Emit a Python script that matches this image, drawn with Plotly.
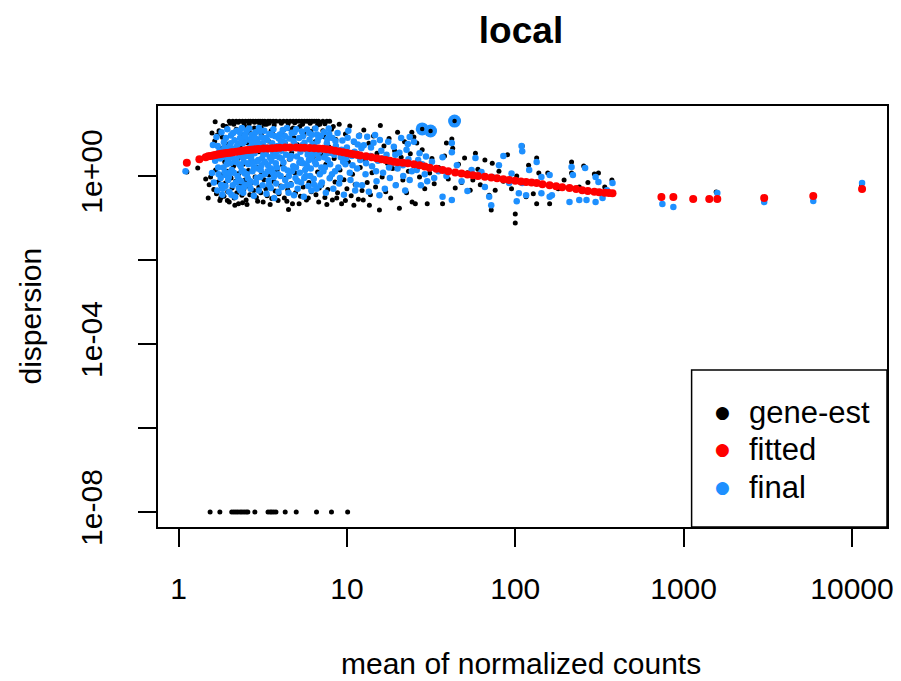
import plotly.graph_objects as go

# ---- data (mean of normalized counts, dispersion) ----
gene_est_points = [
    (1.12,1.25),(1.3,1.55),(1.5,0.30),(1.55,0.95),(1.65,19.5),(1.58,10.5),(1.45,0.85),(1.52,0.62),
    (1.62,0.48),(1.64,6.8),(1.66,1.4),(1.68,0.38),(1.7,9.5),(1.7,2.9),(1.72,0.72),(1.74,12),(1.76,0.26),
    (1.78,4.6),(1.8,1.05),(1.8,0.56),(1.82,8.4),(1.84,16),(1.86,0.33),(1.88,2.2),(1.9,0.68),(1.92,15),
    (1.94,1.3),(1.96,0.42),(1.98,5.8),(2.0,20),(2.0,0.24),(2.02,3.4),(2.05,0.9),(2.07,10),(2.08,0.52),
    (2.1,20),(2.12,1.7),(2.14,0.3),(2.16,7.2),(2.18,0.75),(2.2,20),(2.2,13),(2.22,0.4),(2.25,2.6),
    (2.27,0.22),(2.28,1.15),(2.3,20),(2.32,5.2),(2.34,0.6),(2.36,9.5),(2.38,0.35),(2.4,20),(2.4,0.23),
    (2.42,1.9),(2.44,0.48),(2.46,16),(2.48,0.8),(2.5,20),(2.5,3.2),
    (2.52,0.27),(2.55,6.2),(2.57,0.58),(2.6,20),(2.6,1.35),(2.62,11),(2.65,0.36),(2.67,20),(2.7,2.4),
    (2.72,0.7),(2.75,4.4),(2.77,20),(2.8,0.45),(2.82,14),(2.85,0.95),(2.87,20),(2.9,0.31),(2.92,7.6),
    (2.95,1.6),(2.97,20),(3.0,0.55),(3.0,3.8),(3.05,20),(3.08,0.4),(3.1,9.8),(3.12,1.2),(3.15,20),
    (3.18,0.24),(3.2,5.4),(3.22,0.82),(3.25,20),(3.28,2.1),(3.3,0.5),(3.33,17),(3.36,0.34),(3.4,20),
    (3.42,6.8),(3.45,1.05),(3.48,0.62),(3.5,20),(3.55,12),(3.58,0.29),(3.6,2.9),(3.65,20),(3.68,0.74),
    (3.72,8.8),(3.75,0.44),(3.8,20),(3.85,1.4),(3.9,4.9),(3.95,0.38),
    (4.0,20),(4.05,0.58),(4.1,10.5),(4.15,1.8),(4.2,20),(4.25,0.3),(4.3,6.1),(4.35,0.9),(4.4,20),
    (4.45,0.47),(4.5,13.5),(4.5,0.16),(4.55,2.5),(4.6,20),(4.65,0.66),(4.7,3.6),(4.75,0.22),(4.8,20),
    (4.85,8.2),(4.9,1.2),(4.95,0.4),(5.0,20),(5.05,5.6),(5.1,0.78),(5.2,20),(5.25,15),(5.3,0.33),
    (5.35,2.0),(5.4,20),(5.5,0.55),(5.55,9.2),(5.6,20),(5.7,1.5),(5.75,0.27),(5.8,20),(5.9,4.1),
    (5.95,0.7),(6.0,20),(6.1,11.5),(6.15,0.42),(6.2,20),(6.3,2.8),(6.35,0.88),(6.4,20),(6.5,6.6),
    (6.55,0.36),(6.6,20),(6.7,1.25),(6.8,20),(6.85,0.52),(6.9,17),(7.0,3.3),
    (7.1,0.6),(7.2,20),(7.3,8.6),(7.4,0.31),(7.5,1.9),(7.6,20),(7.7,0.48),(7.8,5.0),(7.9,20),(8.0,0.95),
    (8.1,13),(8.2,0.27),(8.4,2.6),(8.5,0.72),(8.6,7.4),(8.8,0.4),(9.0,17),(9.1,1.4),(9.3,0.22),(9.4,4.2),
    (9.6,0.82),(9.8,10),(10.0,0.5),(10.2,2.2),(10.4,15.5),(10.6,0.34),(10.8,1.1),(11.0,6.4),(11.2,0.63),
    (11.5,3.0),(11.7,0.28),(11.9,9.5),(12.0,1.6),
    (2.03,18),(2.13,17),(2.26,19),(2.44,18.5),(2.63,17.5),(2.83,19),(3.03,18),(3.23,17),(3.45,18),
    (3.7,16.5),(4.08,18),(4.48,17.5),(4.9,18.5),(5.45,17),(6.05,18),(6.7,16.5),(7.4,17.5),(8.3,15),
    (1.78,0.3),(1.95,0.26),(2.16,0.2),(2.55,0.21),(2.95,0.25),(3.5,0.21),(3.9,0.26),(4.4,0.25),
    (5.2,0.22),(5.9,0.3),(6.8,0.24),(7.6,0.21),(8.7,0.3),(9.8,0.26),(11,0.2),(12.5,0.27),(13.6,0.2),
    (2.3,12.5),(2.7,10),(3.1,14),(3.6,11),(4.2,12.5),(4.8,14),(5.6,11.5),(6.4,13.5),(7.2,12),
    (12.3,0.45),(12.6,12.5),(12.9,2.4),(13.2,0.7),(13.5,6.0),(13.8,0.36),(14.1,1.2),(14.4,9.0),
    (14.8,0.55),(15.1,3.5),(15.6,0.155),(15.8,16),(16.2,0.95),(16.6,5.2),(17.0,0.42),(17.4,2.0),
    (17.8,7.8),(18.2,0.3),(18.7,1.5),(19.2,4.0),(19.6,0.62),(20.0,11),(20.5,0.17),(21.0,2.8),(21.5,0.8),
    (22.0,6.5),(22.6,0.4),(23.2,1.3),(23.8,3.4),(24.3,11),(24.4,0.24),(25.0,8.5),
    (25.5,0.22),(26,6.1),(27,0.95),(28,4.2),(28,13.2),(29,0.5),(30,0.22),(31,1.18),(31.4,11.8),(32,2.6),
    (33,0.65),(35,1.6),(37,0.22),(38,3.0),(39,6.1),(40,0.85),(42,7.6),(42.5,4.6),(43.6,20.3),(44,0.52),
    (46,1.9),(48,0.7),(50,2.7),(52,1.2),(54,0.46),(56,0.8),(58,3.5),(60,1.45),
    (62,0.62),(66,2.4),(70,0.35),(72,0.155),(73,2.0),(76,0.46),(80,1.3),(85,0.75),(90,3.2),(95,0.5),
    (100,0.125),(100,0.076),(102,1.0),(110,5.2),(116,0.32),(120,1.8),(128,0.38),(134,2.7),(134,0.22),
    (138,1.18),(156,1.18),(160,0.22),(180,0.5),(195,0.8),(216,2.15),(216,1.18),(240,0.55),(255,1.73),
    (270,0.7),(295,1.12),(312,1.18),(340,0.55),(375,0.8),
    (738,0.334),(1560,0.416),(11400,0.61),
    (1.54,1e-8),(1.76,1e-8),(2.07,1e-8),(2.13,1e-8),(2.19,1e-8),(2.25,1e-8),(2.32,1e-8),(2.38,1e-8),
    (2.45,1e-8),(2.52,1e-8),(2.58,1e-8),(2.84,1e-8),(3.4,1e-8),(3.5,1e-8),(3.58,1e-8),(3.68,1e-8),
    (3.79,1e-8),(4.3,1e-8),(5.0,1e-8),(6.6,1e-8),(8.1,1e-8),(10.1,1e-8),
]

final_points = [
    (1.1,1.3),(1.6,5.5),(1.58,1.18),(1.9,1.05),
    (1.62,0.7),(1.65,2.3),(1.68,8.5),(1.7,0.45),(1.72,1.6),(1.75,4.0),(1.78,0.9),(1.8,11),(1.82,0.36),
    (1.84,2.9),(1.86,6.4),(1.88,1.25),(1.9,0.58),(1.92,3.6),(1.95,13),(1.97,0.8),(2.0,5.0),(2.0,0.42),
    (2.03,2.0),(2.05,9.2),(2.07,1.4),(2.1,0.6),(2.12,4.4),(2.15,7.0),(2.17,0.32),(2.2,2.5),(2.22,12),
    (2.24,1.0),(2.26,5.8),(2.28,0.52),(2.3,3.2),(2.32,8.0),(2.34,1.7),(2.36,0.75),(2.38,14),(2.4,4.0),
    (2.42,0.4),(2.44,2.2),(2.46,6.6),(2.48,1.15),(2.5,10),(2.5,0.62),
    (2.53,3.0),(2.56,7.5),(2.58,0.88),(2.6,1.9),(2.63,13.5),(2.65,4.8),(2.68,0.5),(2.7,2.7),(2.72,9.5),
    (2.75,1.3),(2.78,5.6),(2.8,0.34),(2.83,3.5),(2.86,11),(2.88,0.7),(2.9,2.2),(2.93,6.8),(2.96,1.5),
    (3.0,14),(3.0,0.45),(3.03,4.2),(3.06,0.95),(3.1,8.4),(3.13,2.6),(3.16,0.6),(3.2,5.0),(3.23,12),
    (3.26,1.1),(3.3,3.4),(3.33,0.38),(3.36,7.2),(3.4,1.8),(3.43,0.78),(3.46,10),(3.5,4.4),(3.53,0.52),
    (3.56,2.3),(3.6,6.0),(3.63,1.2),(3.66,13),(3.7,0.3),(3.73,3.0),(3.76,8.8),(3.8,0.66),(3.84,1.6),
    (3.88,5.2),(3.92,0.42),(3.96,2.8),
    (4.0,9.8),(4.04,1.0),(4.08,4.0),(4.12,0.55),(4.16,12.5),(4.2,2.1),(4.25,6.4),(4.3,0.8),(4.35,3.2),
    (4.4,14),(4.45,1.35),(4.5,0.4),(4.55,7.8),(4.6,2.6),(4.65,0.62),(4.7,10.5),(4.75,4.6),(4.8,1.7),
    (4.85,0.35),(4.9,5.8),(4.95,0.9),(5.0,13),(5.05,2.9),(5.1,0.5),(5.2,8.0),(5.25,1.2),(5.3,3.8),
    (5.35,0.7),(5.4,11.5),(5.5,2.0),(5.55,0.32),(5.6,6.2),(5.7,1.0),(5.75,4.2),(5.8,12.8),(5.9,0.58),
    (5.95,2.4),(6.0,7.4),(6.1,1.5),(6.15,0.45),(6.2,9.6),(6.3,3.4),(6.35,0.85),(6.4,5.4),(6.5,13.5),
    (6.55,1.9),(6.6,0.5),(6.7,6.8),(6.8,2.7),(6.9,1.1),(7.0,9.0),
    (7.1,0.7),(7.2,4.2),(7.3,11),(7.4,1.6),(7.5,0.4),(7.6,6.0),(7.7,2.4),(7.8,13.5),(7.9,0.88),(8.0,3.6),
    (8.2,8.0),(8.3,0.5),(8.5,1.3),(8.6,5.2),(8.8,10.5),(9.0,0.66),(9.2,2.8),(9.4,7.0),(9.6,0.36),
    (9.8,1.9),(10.0,4.8),(10.2,12),(10.5,0.8),(10.7,3.0),(11.0,6.6),(11.2,0.45),(11.5,1.5),(11.8,9.0),
    (12.0,2.4),
    (1.73,1.1),(1.77,2.6),(1.83,0.5),(1.87,4.8),(1.93,1.9),(1.99,0.95),(2.04,6.0),(2.09,2.8),(2.13,1.2),
    (2.19,0.7),(2.23,3.8),(2.29,1.9),(2.33,0.45),(2.39,2.8),(2.43,1.3),(2.47,9.0),(2.55,1.1),(2.62,3.3),
    (2.67,0.75),(2.74,6.2),(2.81,1.6),(2.89,4.2),(2.98,2.4),(3.08,1.4),(3.15,6.0),(3.25,2.2),(3.35,4.8),
    (3.45,0.62),(3.55,1.5),(3.65,3.6),(3.78,2.0),(3.9,1.1),(4.06,6.8),(4.22,1.5),(4.38,5.0),(4.52,1.0),
    (4.68,3.0),(4.82,6.8),(4.98,1.6),(5.15,4.8),(5.32,2.4),(5.48,8.8),(5.65,1.4),(5.85,3.2),(6.05,1.0),
    (6.25,5.8),(6.45,2.2),(6.65,9.8),(6.85,3.8),(7.05,1.6),(7.35,2.8),(7.65,7.6),(7.95,1.9),(8.4,3.2),
    (8.9,1.6),(9.3,4.2),(9.9,2.6),(10.4,1.2),(11.1,3.8),(11.6,5.6),
    (1.71,5.2),(1.79,0.62),(1.85,1.6),(1.91,8.0),(1.96,2.4),(2.01,1.2),(2.06,0.36),(2.11,10.5),
    (2.16,2.2),(2.21,5.0),(2.27,0.85),(2.31,11),(2.37,1.3),(2.41,6.0),(2.45,0.55),(2.49,3.6),(2.54,12),
    (2.59,2.0),(2.64,0.62),(2.69,7.0),(2.76,2.0),(2.84,8.2),(2.91,0.9),(2.99,5.5),(3.04,11.5),(3.11,1.8),
    (3.19,3.2),(3.28,8.0),(3.38,1.3),(3.48,2.8),(3.58,9.5),(3.68,0.95),(3.82,3.8),(3.94,7.8),(4.1,2.6),
    (4.28,9.0),(4.42,0.6),(4.58,4.8),(4.72,1.3),(4.88,11),(5.08,0.75),(5.22,2.1),(5.42,5.4),(5.58,0.9),
    (5.78,1.8),(5.98,10.5),(6.18,2.8),(6.38,0.62),(6.58,3.6),(6.78,8.2),(6.95,0.6),(7.25,1.3),(7.55,3.4),
    (7.85,10),(8.15,1.1),(8.55,6.8),(9.1,0.9),(9.5,2.2),(10.1,8.2),(10.8,1.8),(11.4,0.62),(12.2,4.6),
    (13.0,2.0),(13.9,4.8),(14.9,1.3),(16.2,2.6),(17.8,1.6),(19.4,3.2),(21.5,1.8),(23.0,5.8),
    (12.3,0.6),(12.6,5.4),(12.9,1.1),(13.2,8.6),(13.5,0.42),(13.8,3.0),(14.1,1.7),(14.4,6.2),(14.7,9.5),
    (15.0,0.75),(15.3,2.3),(15.6,0.35),(15.7,7.2),(16.0,4.0),(16.4,1.2),(16.8,0.5),(17.2,3.2),(17.6,6.5),
    (18.0,0.9),(18.5,2.0),(19.0,5.0),(19.5,0.6),(20.0,1.5),(20.5,3.6),(21.0,8.0),(21.6,1.0),(22.2,0.45),
    (22.6,4.2),(23.2,2.5),(23.6,8.5),(23.6,0.8),(24.3,1.3),
    (25,6.5),(26,1.4),(26.5,2.4),(27,3.5),(27.5,0.6),(28,1.9),(29,1.1),(29.5,2.9),(30,0.75),(31,1.6),
    (32,2.2),(33,0.9),(35,1.3),(37,2.8),(37,0.32),(39,1.0),(42,6.1),(42,3.7),(42,0.27),(45,1.8),
    (48,0.75),(52,0.44),(55,1.4),(58,2.7),(63,1.25),
    (66,0.55),(70,0.32),(72,0.2),(73,0.95),(80,1.8),(85,3.0),(92,0.68),(95,1.15),(102,0.25),(105,0.39),
    (109,5.2),(110,3.9),(110,0.68),(116,0.35),(121,1.39),(134,2.15),(143,0.95),(143,0.39),(160,1.05),
    (160,0.32),(165,0.35),(210,0.24),(216,1.64),(220,1.05),(240,0.27),(260,1.55),(265,0.27),(300,0.95),
    (300,0.24),(312,0.72),(330,0.3),(350,0.46),(378,0.68),
    (748,0.215),(869,0.183),(1585,0.394),(3010,0.24),(5890,0.254),(11480,0.68),
    (28,13.2),(31.4,11.8),(43.6,20.3),
]

fitted_points = [
    (1.12,2.07),(1.33,2.5),(1.45,2.8),(1.5,2.95),(1.55,3.0),(1.6,3.1),(1.65,3.15),(1.7,3.25),(1.75,3.3),
    (1.8,3.4),(1.85,3.45),(1.9,3.5),(1.95,3.55),(2.0,3.6),(2.05,3.65),(2.1,3.7),(2.2,3.8),(2.3,3.9),
    (2.4,4.0),(2.5,4.1),(2.6,4.15),(2.7,4.2),(2.8,4.3),(2.9,4.35),(3.0,4.4),(3.2,4.5),(3.4,4.55),
    (3.6,4.6),(3.8,4.65),(4.0,4.7),(4.3,4.75),(4.6,4.75),(5.0,4.75),(5.3,4.7),(5.6,4.7),(6.0,4.65),
    (6.4,4.6),(6.8,4.5),(7.2,4.45),(7.6,4.35),(8.0,4.2),(8.5,4.0),(9.0,3.85),(9.5,3.7),(10,3.55),
    (10.5,3.4),(11,3.3),(11.5,3.2),(12,3.1),(13,2.95),(14,2.8),(15,2.65),(16,2.5),(17,2.4),(18,2.3),
    (19,2.2),(20,2.12),(21.5,2.06),(23,2.0),(25,1.9),(27,1.8),(29,1.68),(31,1.58),(34,1.48),(37,1.4),
    (40,1.3),(44,1.22),(48,1.14),(52,1.08),(56,1.04),(60,1.0),(66,0.96),(72,0.92),(78,0.88),(85,0.84),
    (92,0.8),(100,0.77),(108,0.74),(116,0.72),(125,0.7),(134,0.68),(145,0.64),(160,0.6),(175,0.57),
    (190,0.54),(210,0.52),(230,0.49),(250,0.46),(270,0.44),(295,0.42),(315,0.41),(340,0.4),(360,0.395),
    (378,0.39),
    (738,0.316),(869,0.316),(1140,0.283),(1420,0.283),(1585,0.283),(3010,0.30),(5890,0.334),(11480,0.49),
]

outlier_points = [(28,13.2),(31.4,11.8),(43.6,20.3)]

x_tickvals = [1, 10, 100, 1000, 10000]
x_ticktext = ["1", "10", "100", "1000", "10000"]
y_tickvals = [1, 1e-2, 1e-4, 1e-6, 1e-8]
y_ticktext = ["1e+00", "", "1e-04", "", "1e-08"]

legend_names = ["gene-est", "fitted", "final"]
legend_colors = ["black", "red", "dodgerblue"]

FONT = "Liberation Sans, Arial, sans-serif"

# plot-area geometry in pixels
L, R, T, B = 158, 893, 106, 527
W, H = R - L, B - T


def xs(pts):
    return [p[0] for p in pts]


def ys(pts):
    return [p[1] for p in pts]


def px(x):
    return (x - L) / W


def py(y):
    return (B - y) / H


fig = go.Figure()
fig.add_trace(go.Scatter(x=xs(outlier_points), y=ys(outlier_points), mode="markers",
                         marker=dict(color="dodgerblue", size=13, line=dict(width=0)),
                         showlegend=False, hoverinfo="skip"))
fig.add_trace(go.Scatter(x=xs(gene_est_points), y=ys(gene_est_points), mode="markers",
                         name="gene-est", marker=dict(color="black", size=5, line=dict(width=0)),
                         showlegend=False))
fig.add_trace(go.Scatter(x=xs(final_points), y=ys(final_points), mode="markers",
                         name="final", marker=dict(color="dodgerblue", size=6.5, line=dict(width=0)),
                         showlegend=False))
fig.add_trace(go.Scatter(x=xs(fitted_points), y=ys(fitted_points), mode="markers",
                         name="fitted", marker=dict(color="red", size=8, line=dict(width=0)),
                         showlegend=False))
fig.add_trace(go.Scatter(x=xs(outlier_points), y=ys(outlier_points), mode="markers",
                         marker=dict(color="black", size=4.5, line=dict(width=0)),
                         showlegend=False, hoverinfo="skip"))

axis_common = dict(showgrid=False, zeroline=False, showline=True, mirror=True,
                   linecolor="black", linewidth=1.5, ticks="outside", ticklen=18,
                   tickwidth=1.5, tickcolor="black",
                   tickfont=dict(family=FONT, size=30, color="black"))

annotations = [
    dict(text="mean of normalized counts", xref="paper", yref="paper", x=px(524),
         y=py(663), xanchor="center", yanchor="middle", showarrow=False,
         font=dict(family=FONT, size=30, color="black")),
    dict(text="dispersion", xref="paper", yref="paper", x=px(29), y=0.5,
         xanchor="center", yanchor="middle", textangle=-90, showarrow=False,
         font=dict(family=FONT, size=30, color="black")),
]
legend_rows = [412, 449, 487]
for name, col, yy in zip(legend_names, legend_colors, legend_rows):
    annotations.append(dict(text="\u25CF", xref="paper", yref="paper", x=px(727), y=py(yy),
                            xanchor="center", yanchor="middle", showarrow=False,
                            font=dict(family="DejaVu Sans", size=17, color=col)))
    annotations.append(dict(text=name, xref="paper", yref="paper", x=px(752), y=py(yy),
                            xanchor="left", yanchor="middle", showarrow=False,
                            font=dict(family=FONT, size=31, color="black")))

fig.update_layout(
    width=901, height=681,
    margin=dict(l=L, r=901 - R, t=T, b=681 - B),
    paper_bgcolor="white", plot_bgcolor="white",
    font=dict(family=FONT, color="black"),
    showlegend=False,
    title=dict(text="<b>local</b>", x=px(524), xref="paper", y=1 - 30 / 681, yref="container",
               xanchor="center", yanchor="middle", font=dict(family=FONT, size=37, color="black")),
    xaxis=dict(type="log", range=[-0.122, 4.208], tickvals=x_tickvals, ticktext=x_ticktext,
               ticklabelstandoff=16, **axis_common),
    yaxis=dict(type="log", range=[-8.357, 1.667], tickvals=y_tickvals, ticktext=y_ticktext,
               tickangle=-90, ticklabelstandoff=24, **axis_common),
    shapes=[dict(type="rect", xref="paper", yref="paper", x0=px(696), x1=1, y0=0, y1=py(370),
                 line=dict(color="black", width=1.5), fillcolor="white", layer="above")],
    annotations=annotations,
)

fig.write_html("out.html")
